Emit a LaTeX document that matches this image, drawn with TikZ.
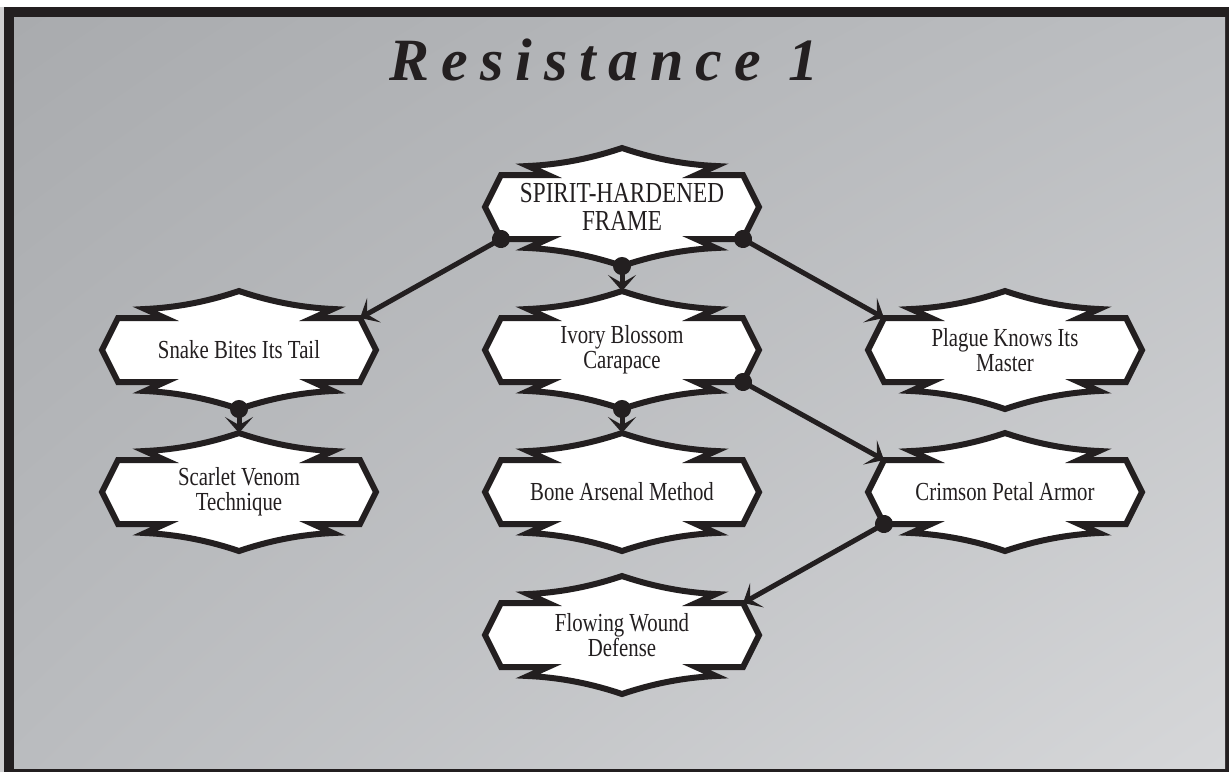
\documentclass[tikz,border=0pt]{standalone}
\usepackage{fontspec}
\usepackage{tikz}
\usetikzlibrary{arrows.meta}
\usetikzlibrary{shadings}

\definecolor{ink}{HTML}{231F20}
\definecolor{edgegray}{HTML}{CFCFD0}
\definecolor{paperTL}{HTML}{A9ABAE}
\definecolor{paperTR}{HTML}{BCBEC1}
\definecolor{paperBL}{HTML}{BABCBF}
\definecolor{paperBR}{HTML}{D6D7D9}

\newfontfamily\plaquefont[FakeStretch=0.8]{Liberation Serif}
\newfontfamily\titlefont[LetterSpace=20]{Liberation Serif}

% plaque: a rectangle with spiked tabs above and below and pointed ends
\makeatletter
\def\pq#1#2{\pgfqpoint{\dimexpr#1\relax}{\dimexpr#2\relax}}
\pgfdeclareshape{plaque}{
  \inheritsavedanchors[from=rectangle]
  \inheritanchorborder[from=rectangle]
  \inheritanchor[from=rectangle]{center}
  \inheritanchor[from=rectangle]{north}
  \inheritanchor[from=rectangle]{south}
  \inheritanchor[from=rectangle]{east}
  \inheritanchor[from=rectangle]{west}
  \inheritanchor[from=rectangle]{north east}
  \inheritanchor[from=rectangle]{north west}
  \inheritanchor[from=rectangle]{south east}
  \inheritanchor[from=rectangle]{south west}
  \anchor{top}{\southwest \pgf@xa=\pgf@x \northeast
    \pgf@x=.5\pgf@x \advance\pgf@x by .5\pgf@xa \advance\pgf@y by 13.5pt}
  \anchor{bottom}{\northeast \pgf@xa=\pgf@x \southwest
    \pgf@x=.5\pgf@x \advance\pgf@x by .5\pgf@xa \advance\pgf@y by -13.5pt}
  \backgroundpath{
    \southwest \edef\pql{\the\pgf@x}\edef\pqb{\the\pgf@y}%
    \northeast \edef\pqr{\the\pgf@x}\edef\pqt{\the\pgf@y}%
    \edef\pqcx{\the\dimexpr(\pql+\pqr)/2\relax}%
    \edef\pqcy{\the\dimexpr(\pqb+\pqt)/2\relax}%
    \pgfpathmoveto{\pq{\pqcx}{\pqt+13.5pt}}%
    \pgfpathcurveto{\pq{\pqcx+15.7pt}{\pqt+8.2pt}}{\pq{\pqr-29.2pt}{\pqt+5.2pt}}{\pq{\pqr-13.5pt}{\pqt+4.5pt}}%
    \pgfpathlineto{\pq{\pqr-23.5pt}{\pqt}}%
    \pgfpathlineto{\pq{\pqr}{\pqt}}%
    \pgfpathlineto{\pq{\pqr+8pt}{\pqcy}}%
    \pgfpathlineto{\pq{\pqr}{\pqb}}%
    \pgfpathlineto{\pq{\pqr-23.5pt}{\pqb}}%
    \pgfpathlineto{\pq{\pqr-13.5pt}{\pqb-4.5pt}}%
    \pgfpathcurveto{\pq{\pqr-29.2pt}{\pqb-5.2pt}}{\pq{\pqcx+15.7pt}{\pqb-8.2pt}}{\pq{\pqcx}{\pqb-13.5pt}}%
    \pgfpathcurveto{\pq{\pqcx-15.7pt}{\pqb-8.2pt}}{\pq{\pql+29.2pt}{\pqb-5.2pt}}{\pq{\pql+13.5pt}{\pqb-4.5pt}}%
    \pgfpathlineto{\pq{\pql+23.5pt}{\pqb}}%
    \pgfpathlineto{\pq{\pql}{\pqb}}%
    \pgfpathlineto{\pq{\pql-8pt}{\pqcy}}%
    \pgfpathlineto{\pq{\pql}{\pqt}}%
    \pgfpathlineto{\pq{\pql+23.5pt}{\pqt}}%
    \pgfpathlineto{\pq{\pql+13.5pt}{\pqt+4.5pt}}%
    \pgfpathcurveto{\pq{\pql+29.2pt}{\pqt+5.2pt}}{\pq{\pqcx-15.7pt}{\pqt+8.2pt}}{\pq{\pqcx}{\pqt+13.5pt}}%
    \pgfpathclose
  }
}
\makeatother

\begin{document}
\begin{tikzpicture} [x=0.5pt, y=-0.5pt,
    plaquebox/.style={shape=plaque, fill=white, draw=ink, line width=3pt,
        minimum width=121pt, minimum height=32pt, inner sep=0pt, outer sep=0pt,
        align=center, text=ink, font=\plaquefont\fontsize{13}{12.5}\selectfont},
    link/.style={draw=ink, line width=2.5pt, shorten <=-4.5pt,
        {Circle[length=9pt]}-{Stealth[length=8pt,width=14pt,inset=4pt]}}]
            \useasboundingbox (0,0) rectangle (1229,772);
            % frame and paper
            \fill[white] (0,0) rectangle (1229,772);
            \fill[edgegray] (0,7) rectangle (4,772);
            \fill[ink] (4,7) rectangle (1229,772);
            \shade[upper left=paperTL, upper right=paperTR, lower left=paperBL, lower right=paperBR]
                (14,17) rectangle (1225,768);

            \node[anchor=base, text=ink, font=\titlefont\bfseries\itshape\fontsize{30}{30}\selectfont]
                (title) at (604,80) {Resistance 1};

            \node[plaquebox, font=\plaquefont\fontsize{14.5}{14}\selectfont]
                (spirit) at (622,207) {SPIRIT-HARDENED\\FRAME};
            \node[plaquebox] (snake)   at (239,350)  {Snake Bites Its Tail};
            \node[plaquebox] (ivory)   at (622,350)  {Ivory Blossom\\Carapace};
            \node[plaquebox] (plague)  at (1005,350) {Plague Knows Its\\Master};
            \node[plaquebox] (scarlet) at (239,492)  {Scarlet Venom\\Technique};
            \node[plaquebox] (bone)    at (622,492)  {Bone Arsenal Method};
            \node[plaquebox] (crimson) at (1005,492) {Crimson Petal Armor};
            \node[plaquebox] (flowing) at (622,635)  {Flowing Wound\\Defense};

            \foreach \from/\to in {spirit.south west/snake.north east,%
                spirit.bottom/ivory.top,%
                spirit.south east/plague.north west,%
                snake.bottom/scarlet.top,%
                ivory.bottom/bone.top,%
                ivory.south east/crimson.north west,%
                crimson.south west/flowing.north east}
                \draw[link] (\from) -- (\to);
        \end{tikzpicture}
\end{document}
